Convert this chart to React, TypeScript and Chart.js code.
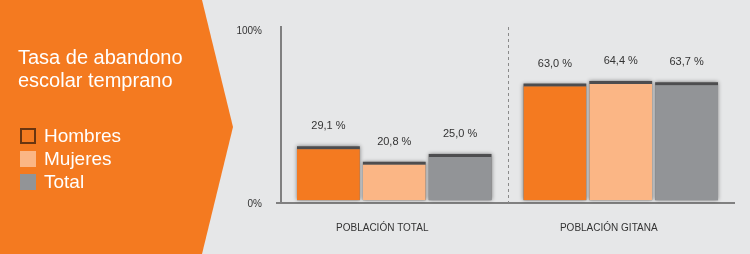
import React, { useEffect, useRef } from "react";
import { Chart, registerables } from "chart.js";

Chart.register(...registerables);

const categories = ["POBLACIÓN TOTAL", "POBLACIÓN GITANA"];
const seriesNames = ["Hombres", "Mujeres", "Total"];
const hombres = [29.1, 63.0];
const mujeres = [20.8, 64.4];
const total = [25.0, 63.7];
const titleLines = ["Tasa de abandono", "escolar temprano"];
const yTickValues = [0, 93.5];
const yTickLabels = ["0%", "100%"];

const ORANGE = "#f47a20";
const LIGHT = "#fbb685";
const GRAY = "#929497";
const BG = "#e6e7e8";
const FONT = "'Liberation Sans', Arial, sans-serif";

const fmt = (v: number) => v.toFixed(1).replace(".", ",") + " %";

const extras = {
  id: "extras",
  beforeDatasetsDraw(chart: any) {
    const { ctx, chartArea, scales } = chart;
    const x = scales.x;
    const mid = (x.getPixelForValue(0) + x.getPixelForValue(1)) / 2;
    ctx.save();
    ctx.strokeStyle = "#8a8a8a";
    ctx.lineWidth = 1;
    ctx.setLineDash([3, 3]);
    ctx.beginPath();
    ctx.moveTo(Math.round(mid) + 0.5, chartArea.top);
    ctx.lineTo(Math.round(mid) + 0.5, chartArea.bottom);
    ctx.stroke();
    ctx.restore();
    // soft shadows behind bars
    ctx.save();
    ctx.shadowColor = "rgba(0,0,0,0.45)";
    ctx.shadowBlur = 4;
    ctx.fillStyle = "#777777";
    chart.data.datasets.forEach((_ds: any, di: number) => {
      const meta = chart.getDatasetMeta(di);
      meta.data.forEach((bar: any) => {
        const p = bar.getProps(["x", "y", "width", "base"], true);
        ctx.fillRect(p.x - p.width / 2, p.y, p.width, p.base - p.y);
      });
    });
    ctx.restore();
  },
  afterDatasetsDraw(chart: any) {
    const { ctx } = chart;
    ctx.save();
    ctx.font = `11px ${FONT}`;
    ctx.fillStyle = "#333333";
    ctx.textAlign = "center";
    ctx.textBaseline = "middle";
    chart.data.datasets.forEach((ds: any, di: number) => {
      const meta = chart.getDatasetMeta(di);
      meta.data.forEach((bar: any, i: number) => {
        ctx.fillText(fmt(ds.data[i]), bar.x, bar.y - 20);
      });
    });
    ctx.restore();
  },
  afterDraw(chart: any) {
    const { ctx, chartArea } = chart;
    ctx.save();
    ctx.strokeStyle = "#808080";
    ctx.lineWidth = 2;
    ctx.beginPath();
    ctx.moveTo(chartArea.left - 5, chartArea.bottom);
    ctx.lineTo(chartArea.left, chartArea.bottom);
    ctx.stroke();
    ctx.restore();
  },
};

export default function App() {
  const ref = useRef<HTMLCanvasElement>(null);

  useEffect(() => {
    const colors = [ORANGE, LIGHT, GRAY];
    const values = [hombres, mujeres, total];
    const chart = new Chart(ref.current!, {
      type: "bar",
      data: {
        labels: categories,
        datasets: seriesNames.map((name, k) => ({
          label: name,
          data: values[k],
          backgroundColor: colors[k],
          borderColor: "#4d4d4f",
          borderWidth: { top: 3, left: 0, right: 0, bottom: 0 },
          borderSkipped: false,
          categoryPercentage: 0.872,
          barPercentage: 0.955,
        })),
      },
      options: {
        animation: false,
        responsive: false,
        layout: { padding: { left: 225, right: 16, top: 27, bottom: 0 } },
        plugins: { legend: { display: false }, tooltip: { enabled: false } },
        scales: {
          x: {
            grid: { display: false, drawTicks: false },
            border: { display: true, color: "#808080", width: 2 },
            ticks: {
              padding: 19,
              labelOffset: -12,
              color: "#333333",
              font: { family: FONT, size: 10 },
            },
            afterFit(s: any) {
              s.height = 51;
            },
          },
          y: {
            min: -1.5,
            max: 93.5,
            grid: { display: false, drawTicks: false },
            border: { display: true, color: "#808080", width: 2 },
            afterBuildTicks(s: any) {
              s.ticks = yTickValues.map((v) => ({ value: v }));
            },
            ticks: {
              padding: 19,
              labelOffset: 4,
              color: "#333333",
              font: { family: FONT, size: 10 },
              callback: (v: any) => yTickLabels[yTickValues.indexOf(Number(v))] ?? "",
            },
            afterFit(s: any) {
              s.width = 56;
            },
          },
        },
      },
      plugins: [extras],
    });
    return () => chart.destroy();
  }, []);

  const legendColors = [
    { bg: "transparent", border: "2px solid #6a3510" },
    { bg: LIGHT, border: "none" },
    { bg: GRAY, border: "none" },
  ];

  return (
    <div
      style={{
        position: "fixed",
        left: 0,
        top: 0,
        width: 750,
        height: 254,
        background: BG,
        overflow: "hidden",
        fontFamily: FONT,
      }}
    >
      <div
        style={{
          position: "absolute",
          left: 0,
          top: 0,
          width: 240,
          height: 254,
          background: ORANGE,
          clipPath: "polygon(0 0, 202px 0, 233px 127px, 202px 254px, 0 254px)",
        }}
      />
      <canvas
        ref={ref}
        width={750}
        height={254}
        style={{ position: "absolute", left: 0, top: 0, width: 750, height: 254 }}
      />
      <div
        style={{
          position: "absolute",
          left: 18,
          top: 46,
          color: "#ffffff",
          fontSize: 20,
          lineHeight: "23px",
          whiteSpace: "nowrap",
        }}
      >
        {titleLines.map((t) => (
          <div key={t}>{t}</div>
        ))}
      </div>
      <div style={{ position: "absolute", left: 20, top: 124, color: "#ffffff" }}>
        {seriesNames.map((n, k) => (
          <div
            key={n}
            style={{ display: "flex", alignItems: "center", height: 23, fontSize: 19 }}
          >
            <span
              style={{
                display: "inline-block",
                width: 16,
                height: 16,
                boxSizing: "border-box",
                background: legendColors[k].bg,
                border: legendColors[k].border,
                marginRight: 8,
              }}
            />
            <span>{n}</span>
          </div>
        ))}
      </div>
    </div>
  );
}
